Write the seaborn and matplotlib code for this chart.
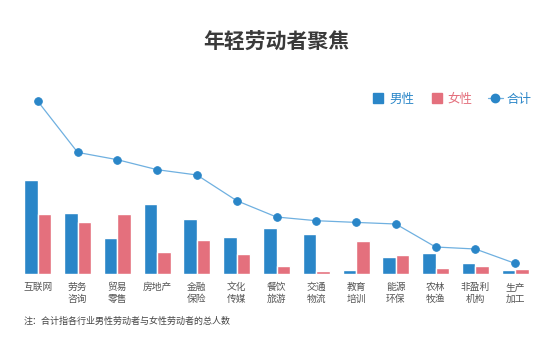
import pandas as pd
import matplotlib.pyplot as plt
import seaborn as sns
from matplotlib.lines import Line2D

sns.set_style("white")
plt.rcParams["font.family"] = ["Noto Sans CJK SC", "DejaVu Sans"]

categories = ["互联网", "劳务\n咨询", "贸易\n零售", "房地产", "金融\n保险", "文化\n传媒", "餐饮\n旅游",
              "交通\n物流", "教育\n培训", "能源\n环保", "农林\n牧渔", "非盈利\n机构", "生产\n加工"]
male = [93.6, 61, 36, 69.6, 55, 37, 46, 40.3, 4.3, 17.3, 21.3, 11.3, 4.3]
female = [60.3, 52.3, 60.3, 22.3, 34.3, 20.3, 8.3, 2.6, 33, 19.3, 6, 8.3, 5.3]
total = [172.6, 121.6, 114.3, 104.3, 99, 73.3, 57, 53.3, 51.6, 50, 27, 25, 10.6]

blue = "#2a86c8"
pink = "#e4707d"
line_blue = "#6fb0e0"

df = pd.DataFrame({"行业": categories * 2,
                   "人数": male + female,
                   "性别": ["男性"] * len(categories) + ["女性"] * len(categories)})

fig = plt.figure(figsize=(5.53, 3.54), dpi=100)
ax = fig.add_axes([18 / 553, 80 / 354, 517 / 553, 180 / 354])

sns.barplot(data=df, x="行业", y="人数", hue="性别", palette=[blue, pink], width=0.68,
            saturation=1, ax=ax, legend=False)
n_before = len(ax.lines)
sns.pointplot(x=categories, y=total, color=blue, markers="o", markersize=5.5,
              linestyles="-", linewidth=0.9, ax=ax)
for ln in ax.lines[n_before:]:
    ln.set_color(line_blue)
    ln.set_markerfacecolor(blue)
    ln.set_markeredgecolor(blue)

ax.axhline(-1.5, color="#e0e0e0", lw=3.5, zorder=0)
ax.set_xlim(-0.5, 12.5)
ax.set_ylim(0, 180)
ax.set_xlabel("")
ax.set_ylabel("")
ax.set_yticks([])
ax.tick_params(axis="x", length=0, labelsize=7, labelcolor="#555555", pad=6)
for s in ax.spines.values():
    s.set_visible(False)

handles = [Line2D([0], [0], marker="s", ls="", markersize=7, color=blue),
           Line2D([0], [0], marker="s", ls="", markersize=7, color=pink),
           Line2D([0], [0], color=line_blue, marker="o", markersize=6,
                  markerfacecolor=blue, markeredgecolor=blue, lw=0.9)]
leg = fig.legend(handles, ["男性", "女性", "合计"], loc="center", bbox_to_anchor=(451 / 553, 1 - 99 / 354),
                 ncol=3, frameon=False, fontsize=9, handlelength=1.2,
                 columnspacing=1.2, handletextpad=0.3)
for t, c in zip(leg.get_texts(), [blue, pink, blue]):
    t.set_color(c)

fig.text(0.5, 1 - 42 / 354, "年轻劳动者聚焦", ha="center", va="center", fontsize=15,
         fontweight="bold", color="#3a3a3a")
fig.text(24 / 553, 1 - 321 / 354, "注：合计指各行业男性劳动者与女性劳动者的总人数", ha="left", va="center",
         fontsize=6.5, color="#444444")

fig.savefig("out.png", dpi=100)
